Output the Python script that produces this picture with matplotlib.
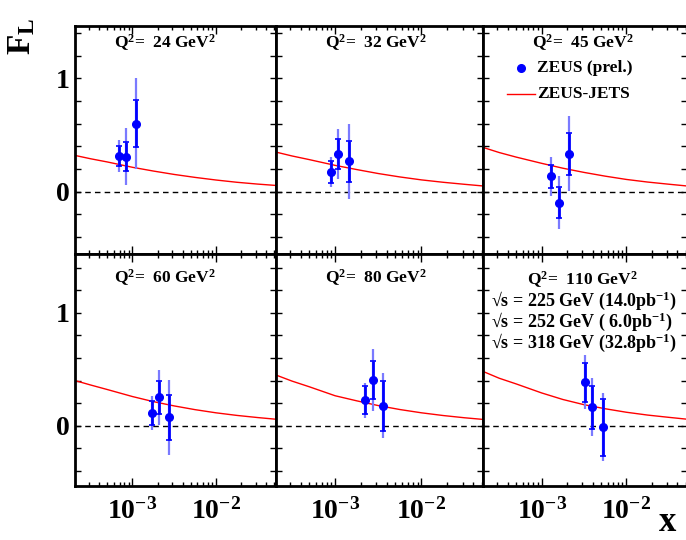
import numpy as np
import matplotlib
matplotlib.use('Agg')
import matplotlib.pyplot as plt
from matplotlib.ticker import FixedLocator, NullFormatter, LogLocator, MultipleLocator, FixedFormatter
from matplotlib.lines import Line2D

plt.rcParams['font.family'] = ['Liberation Serif', 'DejaVu Serif']
plt.rcParams['font.weight'] = 'bold'
plt.rcParams['mathtext.fontset'] = 'custom'
plt.rcParams['mathtext.rm'] = 'Liberation Serif:bold'
plt.rcParams['mathtext.bf'] = 'Liberation Serif:bold'
plt.rcParams['mathtext.it'] = 'Liberation Serif:bold:italic'
plt.rcParams['mathtext.default'] = 'bf'

# ---------------- data ----------------
q2_values = [24, 32, 45, 60, 80, 110]

x_points = [
    [6.9e-4, 8.4e-4, 1.11e-3],
    [8.9e-4, 1.08e-3, 1.44e-3],
    [1.30e-3, 1.60e-3, 2.12e-3],
    [1.70e-3, 2.08e-3, 2.74e-3],
    [2.23e-3, 2.72e-3, 3.59e-3],
    [3.21e-3, 3.96e-3, 5.3e-3],
]
fl_points = [
    [0.317, 0.31, 0.60],
    [0.174, 0.33, 0.268],
    [0.136, -0.097, 0.335],
    [0.112, 0.25, 0.074],
    [0.225, 0.404, 0.177],
    [0.384, 0.165, -0.014],
]
stat_err = [
    [0.09, 0.13, 0.21],
    [0.095, 0.13, 0.18],
    [0.10, 0.135, 0.185],
    [0.11, 0.147, 0.20],
    [0.125, 0.165, 0.223],
    [0.175, 0.19, 0.25],
]
tot_err = [
    [0.14, 0.25, 0.40],
    [0.135, 0.22, 0.33],
    [0.17, 0.235, 0.33],
    [0.15, 0.24, 0.33],
    [0.157, 0.276, 0.29],
    [0.24, 0.255, 0.30],
]

curve_x = [2.04e-4, 3.16e-4, 5.0e-4, 1.0e-3, 1.78e-3, 3.16e-3, 5.62e-3,
           1.0e-2, 1.78e-2, 3.16e-2, 5.25e-2]
curve_fl = [
    [0.32, 0.29, 0.262, 0.215, 0.182, 0.152, 0.126, 0.103, 0.083, 0.067, 0.055],
    [0.35, 0.315, 0.283, 0.232, 0.195, 0.160, 0.130, 0.104, 0.083, 0.065, 0.05],
    [0.39, 0.345, 0.305, 0.25, 0.207, 0.170, 0.137, 0.108, 0.085, 0.066, 0.05],
    [0.40, 0.36, 0.32, 0.258, 0.213, 0.175, 0.142, 0.114, 0.091, 0.072, 0.057],
    [0.45, 0.395, 0.345, 0.265, 0.220, 0.178, 0.143, 0.114, 0.090, 0.070, 0.055],
    [0.48, 0.42, 0.37, 0.29, 0.232, 0.186, 0.150, 0.119, 0.094, 0.074, 0.057],
]

x_tick_vals = [1e-3, 1e-2]
x_tick_labels = ['$10^{-3}$', '$10^{-2}$']
y_tick_vals = [0, 1]
y_tick_labels = ['0', '1']

sqrt_s_lines = ['\u221as = 225 GeV (14.0pb$^{-1}$)',
                '\u221as = 252 GeV ( 6.0pb$^{-1}$)',
                '\u221as = 318 GeV (32.8pb$^{-1}$)']

# ---------------- layout ----------------
W, H = 686, 540
fig = plt.figure(figsize=(W / 100, H / 100), dpi=100)

def fx(px):
    return px / W

def fy(py):
    return 1 - py / H

cols = [(75, 275.7), (275.7, 483.3), (483.3, 687)]
rows = [(26, 254, (-0.549, 1.46)), (254, 486, (-0.534, 1.52))]
xlim = (2.05e-4, 0.052)

title_pos = [(165, 43), (376, 43), (583, 43), (165, 278), (376, 278), (582, 280)]

for i, q2 in enumerate(q2_values):
    r, c = divmod(i, 3)
    x0, x1 = cols[c]
    y0, y1, ylim = rows[r]
    ax = fig.add_axes([fx(x0), fy(y1), (x1 - x0) / W, (y1 - y0) / H])
    ax.set_xscale('log')
    ax.set_xlim(*xlim)
    ax.set_ylim(*ylim)

    ax.axhline(0, color='black', lw=1, ls=(0, (4, 3)))
    ax.plot(curve_x, curve_fl[i], color='red', lw=1)

    ax.errorbar(x_points[i], fl_points[i], yerr=tot_err[i], fmt='none',
                ecolor='#7a7aff', elinewidth=1.6, capsize=0)
    ax.errorbar(x_points[i], fl_points[i], yerr=stat_err[i], fmt='o',
                color='blue', ms=5.5, elinewidth=2, capsize=2.5, capthick=1.2)

    ax.xaxis.set_major_locator(FixedLocator(x_tick_vals))
    ax.xaxis.set_minor_locator(LogLocator(base=10, subs=np.arange(2, 10)))
    ax.xaxis.set_minor_formatter(NullFormatter())
    if r == 1:
        ax.xaxis.set_major_formatter(FixedFormatter(x_tick_labels))
    else:
        ax.xaxis.set_major_formatter(NullFormatter())

    ax.yaxis.set_major_locator(FixedLocator(y_tick_vals))
    ax.yaxis.set_minor_locator(MultipleLocator(0.2))
    ax.yaxis.set_minor_formatter(NullFormatter())
    if c == 0:
        ax.yaxis.set_major_formatter(FixedFormatter(y_tick_labels))
    else:
        ax.yaxis.set_major_formatter(NullFormatter())

    ax.tick_params(axis='x', which='major', direction='in', length=6, width=1,
                   top=True, bottom=True, labelsize=20, pad=9)
    ax.tick_params(axis='x', which='minor', direction='in', length=3, width=1,
                   top=True, bottom=True)
    ax.tick_params(axis='y', which='both', direction='in', length=4, width=1,
                   left=True, right=True, labelsize=20, pad=4)
    for s in ax.spines.values():
        s.set_linewidth(2)

    tx, ty = title_pos[i]
    fig.text(fx(tx), fy(ty), 'Q$^2$=  %d GeV$^2$' % q2, ha='center', va='center',
             fontsize=12.5, fontweight='bold')

# legend (top-right panel)
fig.add_artist(Line2D([fx(521)], [fy(68)], marker='o', color='blue', ms=5.5,
                      transform=fig.transFigure))
fig.text(fx(537), fy(68), 'ZEUS (prel.)', ha='left', va='center', fontsize=12.5,
         fontweight='bold')
fig.add_artist(Line2D([fx(507), fx(535)], [fy(94), fy(94)], color='red', lw=1,
                      transform=fig.transFigure))
fig.text(fx(537), fy(94), 'ZEUS-JETS', ha='left', va='center', fontsize=12.5,
         fontweight='bold')

# sqrt(s) annotations
for txt, py in zip(sqrt_s_lines, [306, 327, 348]):
    fig.text(fx(491), fy(py), txt, ha='left', va='baseline', fontsize=13,
             fontweight='bold')

# axis titles
fig.text(fx(22), fy(36), 'F$_{L}$', rotation=90, ha='center', va='center',
         fontsize=24, fontweight='bold')
fig.text(fx(668), fy(531), 'x', ha='center', va='baseline', fontsize=25,
         fontweight='bold')

fig.savefig('out.png', dpi=100)
